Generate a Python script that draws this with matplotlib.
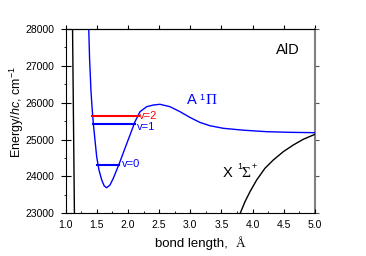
import matplotlib
matplotlib.use("Agg")
import matplotlib.pyplot as plt
from matplotlib.ticker import MultipleLocator

plt.rcParams["font.family"] = "Liberation Sans"
plt.rcParams["mathtext.fontset"] = "custom"
plt.rcParams["mathtext.rm"] = "Liberation Sans"
plt.rcParams["mathtext.it"] = "Liberation Sans:italic"

# A 1Pi potential curve
a_r = [1.37, 1.383, 1.405, 1.422, 1.443, 1.470, 1.497, 1.534, 1.578, 1.619,
       1.658, 1.711, 1.764, 1.818, 1.871, 1.951, 2.032, 2.112, 2.192, 2.299,
       2.406, 2.513, 2.674, 2.835, 2.995, 3.155, 3.316, 3.529, 3.849, 4.225,
       4.599, 5.0]
a_e = [28000, 27200, 26345, 25892, 25441, 24989, 24536, 24175, 23903, 23740,
       23695, 23768, 23950, 24175, 24400, 24763, 25124, 25485, 25756, 25892,
       25938, 25957, 25892, 25756, 25600, 25465, 25375, 25306, 25255, 25214,
       25197, 25187]

# X 1Sigma+ curve, outer branch and inner wall
x_r = [3.80, 3.877, 3.957, 4.064, 4.197, 4.331, 4.491, 4.652, 4.812, 5.0]
x_e = [23000, 23315, 23586, 23903, 24221, 24446, 24671, 24853, 25008, 25143]
wall_r = [1.11, 1.14]
wall_e = [28000, 23000]

# vibrational levels of A state
lev_names = ["v=0", "v=1", "v=2"]
lev_e = [24310, 25410, 25648]
lev_r1 = [1.51, 1.44, 1.43]
lev_r2 = [1.85, 2.11, 2.17]
lev_colors = ["#0000ff", "#0000ff", "#ff0000"]

fig = plt.figure(figsize=(3.66, 2.56), dpi=100)
ax = fig.add_axes([0.1795, 0.1668, 0.6811, 0.7199])

ax.plot(a_r, a_e, color="#0000ff", lw=1.0)
ax.plot(x_r, x_e, color="black", lw=1.0)
ax.plot(wall_r, wall_e, color="black", lw=1.0)

label_dx = [0.05, 0.03, 0.0]
label_dy = [30, -80, 0]
for i in range(len(lev_names)):
    c = lev_colors[i]
    ax.plot([lev_r1[i], lev_r2[i]], [lev_e[i], lev_e[i]], color=c, lw=1.5)
    ax.text(lev_r2[i] + label_dx[i], lev_e[i] + label_dy[i], lev_names[i],
            color=c, fontsize=8, va="center")

ax.set_xlim(1.0, 5.0)
ax.set_ylim(23000, 28000)
ax.xaxis.set_major_locator(MultipleLocator(0.5))
ax.xaxis.set_minor_locator(MultipleLocator(0.25))
ax.yaxis.set_major_locator(MultipleLocator(1000))
ax.yaxis.set_minor_locator(MultipleLocator(500))
ax.xaxis.set_major_formatter(plt.FormatStrFormatter("%.1f"))

ax.tick_params(axis="x", which="major", direction="in", length=3, width=0.8,
               top=False, labelsize=7.5, pad=5)
ax.tick_params(axis="x", which="minor", direction="in", length=1.5, width=0.6,
               top=False)
ax.tick_params(axis="y", which="major", direction="inout", length=6.5, width=0.8,
               right=False, labelsize=7.5, pad=5)
ax.tick_params(axis="y", which="minor", direction="out", length=1.5, width=0.6,
               right=False)

for s in ["left", "bottom", "top"]:
    ax.spines[s].set_linewidth(0.8)
ax.spines["right"].set_visible(False)

top = ax.secondary_xaxis("top")
top.xaxis.set_major_locator(MultipleLocator(0.5))
top.tick_params(direction="out", length=3, width=0.8, labeltop=False)
top.spines["top"].set_linewidth(0.8)

right = ax.secondary_yaxis("right")
right.yaxis.set_major_locator(MultipleLocator(1000))
right.tick_params(direction="out", length=3, width=0.8, labelright=False,
                  color="#555555")
right.spines["right"].set_color("#808080")
right.spines["right"].set_linewidth(1.5)

# state labels
ax.text(4.57, 27430, "AlD", fontsize=10.5, ha="center", va="center")
ax.text(2.94, 25965, "A", fontsize=10.5, color="#0000ff", va="baseline")
ax.text(3.15, 26074, "1", fontsize=6.5, color="#0000ff", va="baseline")
ax.text(3.25, 25965, "\u03a0", fontsize=11, color="#0000ff", va="baseline",
        family="Liberation Serif")
ax.text(3.52, 23993, "X", fontsize=10.5, va="baseline")
ax.text(3.75, 24202, "1", fontsize=6.5, va="baseline")
ax.text(3.825, 23993, "\u03a3", fontsize=11, va="baseline",
        family="Liberation Serif")
ax.text(3.99, 24202, "+", fontsize=6.5, va="baseline")

fig.text(0.0456, 0.5637, "Energy/$hc$, cm$^{-1}$", rotation=90, fontsize=9,
         ha="center", va="center")
ax.text(0.358, -0.181, "bond length,", transform=ax.transAxes, fontsize=9.5,
        va="baseline")
ax.text(0.682, -0.181, "\u00c5", transform=ax.transAxes, fontsize=9.5,
        va="baseline", family="Liberation Serif")

fig.savefig("out.png", dpi=100)
